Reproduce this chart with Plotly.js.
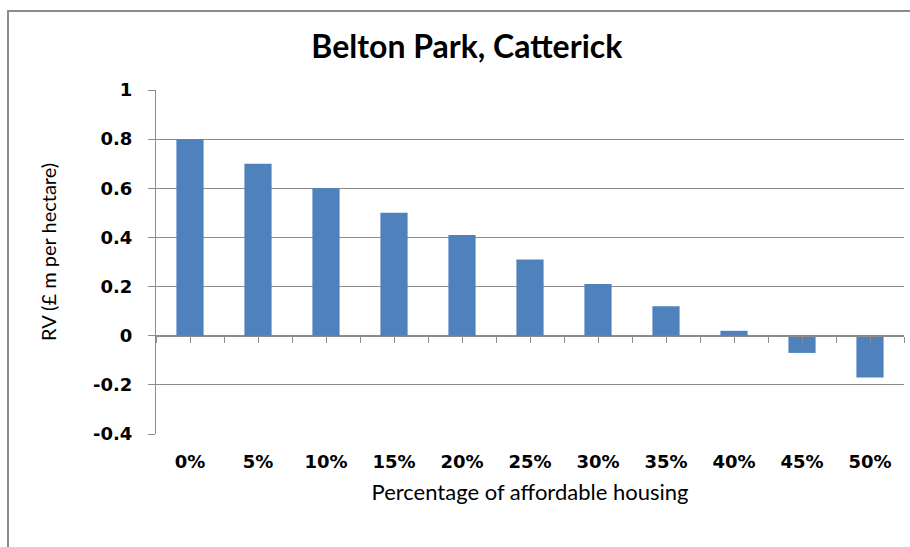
<!DOCTYPE html>
<html>
<head>
<meta charset="utf-8">
<script src="https://cdn.plot.ly/plotly-3.0.1.min.js"></script>
<style>
  html, body { margin: 0; padding: 0; background: #fff; }
  #wrap { position: relative; width: 910px; height: 547px; overflow: hidden; }
  #chart { width: 910px; height: 547px; }
  #frame { position: absolute; left: 7px; top: 10px; width: 1000px; height: 1000px;
           border-left: 2px solid #8c8c8c; border-top: 2px solid #8c8c8c; pointer-events: none; }
</style>
</head>
<body>
<div id="wrap">
  <div id="chart"></div>
  <div id="frame"></div>
</div>
<script>
const categories = ['0%', '5%', '10%', '15%', '20%', '25%', '30%', '35%', '40%', '45%', '50%'];
const rvValues = [0.80, 0.70, 0.60, 0.50, 0.41, 0.31, 0.21, 0.12, 0.02, -0.07, -0.17];
const yTickVals = [-0.4, -0.2, 0, 0.2, 0.4, 0.6, 0.8, 1];
const yTickText = ['-0.4', '-0.2', '0', '0.2', '0.4', '0.6', '0.8', '1'];

const yMin = -0.4, yMax = 1;
const zeroPos = (0 - yMin) / (yMax - yMin);
const gridColor = '#8c8c8c';

const barTrace = {
  type: 'bar',
  x: categories,
  y: rvValues,
  marker: { color: '#4F81BD' },
  hoverinfo: 'x+y'
};

// empty helper trace so the zero-line category axis (x2) gets drawn
const axisHelper = {
  type: 'scatter',
  mode: 'none',
  x: [],
  y: [],
  xaxis: 'x2',
  yaxis: 'y',
  hoverinfo: 'skip',
  showlegend: false
};

const layout = {
  width: 910,
  height: 547,
  margin: { l: 156, r: 6, t: 90, b: 113 },
  paper_bgcolor: '#ffffff',
  plot_bgcolor: '#ffffff',
  showlegend: false,
  bargap: 0.6,
  title: {
    text: '<b>Belton Park, Catterick</b>',
    font: { family: 'Lato, sans-serif', size: 32, color: '#000' },
    xref: 'container', x: 0.513, xanchor: 'center',
    yref: 'container', y: 0.914, yanchor: 'middle'
  },
  xaxis: {
    type: 'category',
    range: [-0.5, 10.5],
    showgrid: false,
    zeroline: false,
    showline: false,
    ticks: '',
    ticklabelstandoff: 15,
    tickfont: { family: 'DejaVu Sans, sans-serif', size: 18, color: '#000', weight: 'bold' },
    title: {
      text: 'Percentage of affordable housing',
      font: { family: 'Lato, sans-serif', size: 22, color: '#000' },
      standoff: 13
    }
  },
  xaxis2: {
    overlaying: 'x',
    anchor: 'free',
    position: zeroPos,
    type: 'linear',
    range: [-0.5, 10.5],
    tick0: -0.5,
    dtick: 0.5,
    ticks: 'outside',
    ticklen: 6,
    tickcolor: gridColor,
    showticklabels: false,
    showgrid: false,
    zeroline: false,
    showline: true,
    linecolor: gridColor,
    linewidth: 1
  },
  yaxis: {
    range: [yMin, yMax],
    tickvals: yTickVals,
    ticktext: yTickText,
    showgrid: true,
    gridcolor: gridColor,
    gridwidth: 1,
    zeroline: false,
    showline: true,
    linecolor: gridColor,
    linewidth: 1,
    ticks: 'outside',
    ticklen: 7,
    tickcolor: gridColor,
    ticklabelstandoff: 12,
    tickfont: { family: 'DejaVu Sans, sans-serif', size: 18, color: '#000', weight: 'bold' }
  },
  annotations: [{
    text: 'RV (£ m per hectare)',
    textangle: -90,
    xref: 'paper', yref: 'paper',
    x: (48 - 156) / 748, y: (434 - 252) / 344,
    xanchor: 'center', yanchor: 'middle',
    showarrow: false,
    font: { family: 'Lato, sans-serif', size: 20, color: '#000' }
  }]
};

Plotly.newPlot('chart', [barTrace, axisHelper], layout, { displayModeBar: false, staticPlot: true });
</script>
</body>
</html>
